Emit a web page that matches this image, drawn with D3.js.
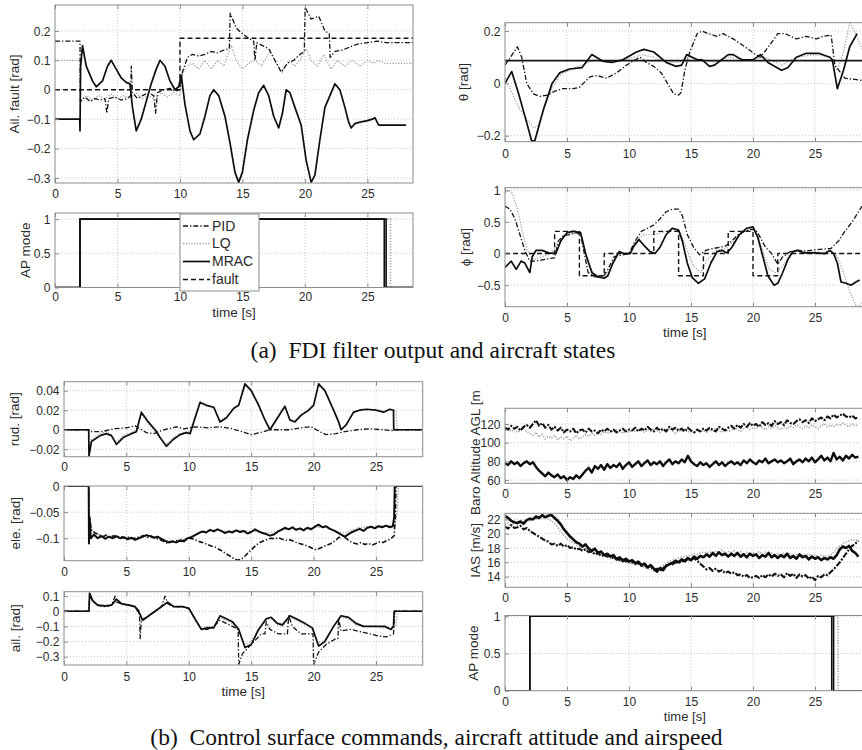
<!DOCTYPE html>
<html><head><meta charset="utf-8">
<script src="https://cdn.jsdelivr.net/npm/d3@7"></script>
<style>body{margin:0;background:#fff}svg{display:block}</style>
</head><body>
<svg id="c" width="862" height="750"></svg>
<script>
// ---------------- DATA ----------------
const timeTicks = [0,5,10,15,20,25];
const legendNames = ['PID','LQ','MRAC','fault'];

// (a) Aileron fault estimate [rad]
const ailFaultPID = [[0,0.165],[2,0.165],[2.03,-0.04],[2.4,-0.025],[2.8,-0.04],[3.2,-0.03],[3.6,-0.035],[4.0,-0.03],[4.15,-0.08],[4.3,-0.03],[4.8,-0.025],[5.3,-0.035],[5.8,-0.03],[6.05,-0.02],[6.1,0.08],[6.2,-0.01],[6.6,-0.03],[7.0,-0.02],[7.5,-0.01],[7.9,-0.02],[8.05,-0.08],[8.2,-0.01],[8.7,0.0],[9.2,0.005],[9.6,-0.005],[10,0.0],[10.2,0.06],[10.6,0.11],[11,0.12],[11.5,0.115],[12,0.12],[12.5,0.13],[13,0.125],[13.5,0.135],[13.95,0.14],[14.02,0.26],[14.5,0.21],[15,0.19],[15.5,0.175],[15.9,0.165],[16.0,0.1],[16.15,0.16],[16.6,0.15],[17.1,0.14],[17.6,0.1],[18.1,0.06],[18.6,0.09],[19.1,0.1],[19.6,0.12],[19.95,0.13],[20.02,0.28],[20.5,0.24],[21.1,0.25],[21.6,0.2],[21.95,0.19],[22.02,0.11],[22.4,0.13],[23,0.135],[23.6,0.145],[24.2,0.155],[25,0.16],[25.8,0.165],[26.5,0.16],[28.7,0.16]];
const ailFaultLQ = [[0,0.1],[2,0.1],[2.05,-0.04],[2.5,-0.02],[3,-0.035],[3.5,-0.02],[4,-0.03],[4.5,-0.015],[5,-0.03],[5.5,-0.02],[6,-0.03],[6.5,-0.01],[7,-0.03],[7.5,-0.02],[8,-0.035],[8.5,-0.01],[9,-0.025],[9.5,-0.01],[10,-0.02],[10.2,0.05],[10.5,0.08],[11,0.09],[11.5,0.07],[12,0.1],[12.5,0.07],[13,0.1],[13.5,0.08],[14.1,0.15],[14.5,0.1],[15,0.07],[15.5,0.09],[16,0.1],[16.5,0.08],[17.2,0.13],[17.7,0.09],[18.2,0.06],[18.7,0.1],[19.2,0.08],[19.6,0.1],[20.1,0.14],[20.5,0.1],[21,0.08],[21.5,0.12],[22.1,0.07],[22.6,0.1],[23.2,0.08],[23.8,0.1],[24.4,0.08],[25,0.1],[25.5,0.09],[25.9,0.1],[26.4,0.09],[28.7,0.09]];
const ailFaultMRAC = [[0,-0.1],[1.98,-0.1],[2,-0.14],[2.05,0.08],[2.2,0.15],[2.5,0.08],[3,0.03],[3.3,0.01],[3.8,0.03],[4.2,0.08],[4.5,0.1],[4.9,0.07],[5.3,0.04],[5.7,0.025],[6.0,0.02],[6.2,-0.06],[6.5,-0.14],[6.9,-0.1],[7.3,-0.04],[7.7,0.02],[8.1,0.07],[8.4,0.1],[8.8,0.08],[9.2,0.03],[9.6,0.0],[9.9,0.01],[10.1,0.05],[10.4,-0.05],[10.8,-0.14],[11.1,-0.17],[11.6,-0.15],[12.0,-0.09],[12.4,-0.02],[12.7,0.0],[13.1,-0.02],[13.6,-0.09],[14.0,-0.18],[14.4,-0.28],[14.7,-0.315],[15.0,-0.28],[15.4,-0.17],[15.9,-0.07],[16.3,-0.01],[16.7,0.015],[17.1,-0.02],[17.5,-0.09],[17.9,-0.13],[18.2,-0.08],[18.5,0.0],[18.8,-0.01],[19.2,-0.06],[19.7,-0.12],[20.1,-0.24],[20.5,-0.315],[20.8,-0.29],[21.2,-0.17],[21.6,-0.06],[21.9,-0.03],[22.4,0.02],[22.8,0.0],[23.2,-0.06],[23.5,-0.11],[23.7,-0.13],[24.0,-0.115],[24.4,-0.11],[25.0,-0.105],[25.4,-0.1],[25.6,-0.095],[25.9,-0.12],[28.1,-0.12]];
const ailFaultTrue = [[0,0],[10,0],[10,0.175],[28.7,0.175]];

// AP mode (0 = manual, 1 = autopilot)
const apPID = [[0,0],[2,0],[2,1],[26.5,1],[26.5,0],[29,0]];
const apLQ = [[0,0],[2,0],[2,1],[26.85,1],[26.85,0],[29,0]];
const apMRAC = [[0,0],[2,0],[2,1],[26.35,1],[26.35,0],[29,0]];

// theta [rad]
const thetaRef = [[0,0.087],[29,0.087]];
const thetaPID = [[0,0.07],[0.3,0.09],[1.0,0.14],[1.35,0.1],[1.75,0.0],[2.3,-0.04],[2.8,-0.05],[3.4,-0.045],[4.0,-0.03],[4.7,-0.02],[5.5,-0.02],[6.0,-0.015],[6.85,0.025],[7.4,0.03],[8.2,0.02],[9.0,0.04],[9.8,0.07],[10.5,0.09],[10.9,0.1],[11.4,0.08],[12.0,0.065],[12.6,0.04],[13.1,0.0],[13.6,-0.04],[14.0,-0.045],[14.2,-0.035],[14.5,0.05],[14.9,0.12],[15.5,0.19],[15.9,0.2],[16.4,0.19],[17.1,0.18],[17.6,0.19],[18.4,0.17],[19.35,0.14],[20.2,0.11],[20.6,0.1],[21.4,0.15],[22.0,0.19],[22.6,0.19],[23.5,0.17],[24.3,0.18],[25.1,0.17],[25.7,0.18],[26.3,0.185],[26.6,0.07],[27.4,0.02],[28.2,0.015],[29,0.01]];
const thetaLQ = [[0,0.02],[0.7,-0.05],[1.2,-0.1],[2.3,-0.17],[2.7,-0.16],[3.2,-0.09],[3.8,-0.02],[4.4,0.03],[5.2,0.05],[6.2,0.07],[7.2,0.09],[8.2,0.08],[9.5,0.09],[10.4,0.1],[11,0.11],[12,0.1],[13,0.08],[14,0.08],[14.8,0.1],[16,0.09],[17,0.08],[18,0.1],[19.5,0.09],[21,0.1],[22.3,0.07],[23.5,0.1],[25,0.11],[26.2,0.1],[26.8,0.05],[27.3,0.12],[27.8,0.23],[28.2,0.2],[28.8,0.13]];
const thetaMRAC = [[0,0.0],[0.54,0.045],[1.1,-0.04],[1.75,-0.15],[2.15,-0.22],[2.4,-0.22],[3.1,-0.1],[3.8,0.0],[4.4,0.04],[5.2,0.055],[6.2,0.06],[7.0,0.11],[7.9,0.085],[8.6,0.08],[9.5,0.09],[10.6,0.12],[11.2,0.13],[12.0,0.12],[13.0,0.08],[13.8,0.065],[14.25,0.07],[14.65,0.11],[15.5,0.09],[15.9,0.09],[16.5,0.065],[16.9,0.07],[18.0,0.11],[18.4,0.11],[19.1,0.09],[20.0,0.09],[20.6,0.11],[21.2,0.08],[22.3,0.05],[22.8,0.06],[23.5,0.1],[24.3,0.115],[25.3,0.115],[26.2,0.1],[26.4,0.09],[26.8,-0.02],[27.3,0.05],[27.8,0.14],[28.4,0.19]];

// phi [rad]
const phiRef = [[0,0],[4,0],[4,0.35],[6,0.35],[6,-0.35],[8,-0.35],[8,0],[12,0],[12,0.35],[14,0.35],[14,-0.35],[16,-0.35],[16,0],[18,0],[18,0.35],[20,0.35],[20,-0.35],[22,-0.35],[22,0],[29,0]];
const phiPID = [[0,0.75],[0.4,0.7],[0.8,0.55],[1.2,0.3],[1.6,0.05],[2.0,-0.12],[2.5,-0.12],[3.0,-0.1],[3.5,-0.08],[4.0,-0.07],[4.3,0.2],[4.7,0.28],[5.2,0.3],[5.8,0.33],[6.1,0.3],[6.4,0.0],[6.7,-0.3],[7.3,-0.37],[7.9,-0.37],[8.3,-0.25],[8.8,-0.05],[9.5,-0.02],[10.0,0.0],[10.5,0.2],[11.0,0.35],[11.5,0.4],[12.0,0.45],[12.5,0.55],[13.0,0.66],[13.5,0.7],[14.0,0.7],[14.3,0.6],[14.7,0.3],[15.2,0.1],[15.7,-0.02],[16.2,0.05],[16.8,0.08],[17.4,0.1],[17.8,0.12],[18.3,0.2],[18.8,0.3],[19.3,0.35],[19.8,0.38],[20.2,0.38],[20.6,0.25],[21.0,0.1],[21.5,0.0],[22.0,-0.17],[22.4,-0.05],[23.0,0.03],[23.6,0.05],[24.3,0.04],[25.0,0.06],[25.7,0.07],[26.3,0.08],[26.9,0.2],[27.4,0.35],[28.0,0.5],[28.8,0.75]];
const phiLQ = [[0,0.95],[0.3,1.0],[0.6,0.95],[1.0,0.7],[1.4,0.35],[1.8,0.05],[2.3,-0.1],[3.0,-0.05],[3.7,0.0],[4.3,0.15],[4.8,0.3],[5.5,0.32],[6.1,0.3],[6.6,-0.1],[7.2,-0.33],[8.0,-0.37],[8.6,-0.2],[9.2,0.0],[10.0,0.0],[10.6,0.2],[11.2,0.3],[12.0,0.3],[12.7,0.33],[13.5,0.38],[14.1,0.35],[14.6,0.1],[15.2,-0.2],[15.8,-0.3],[16.3,-0.1],[17.0,0.05],[17.8,0.08],[18.5,0.2],[19.3,0.35],[20.0,0.4],[20.7,0.1],[21.3,-0.25],[21.8,-0.3],[22.4,-0.2],[23.0,0.0],[23.7,0.05],[24.5,0.03],[25.5,0.02],[26.3,0.03],[26.8,-0.05],[27.3,-0.3],[27.8,-0.6],[28.3,-0.82],[28.6,-0.84],[28.9,-0.75]];
const phiMRAC = [[0,-0.22],[0.5,-0.12],[0.9,-0.25],[1.3,-0.12],[1.6,-0.15],[2.0,-0.3],[2.2,-0.05],[2.5,0.05],[3.0,0.05],[3.5,0.01],[4.1,0.0],[4.5,0.2],[5.0,0.33],[5.5,0.35],[6.1,0.33],[6.5,0.0],[7.0,-0.3],[7.5,-0.37],[8.0,-0.39],[8.3,-0.35],[8.7,-0.15],[9.2,0.03],[9.6,0.0],[10.1,0.0],[10.4,0.12],[10.8,0.22],[11.2,0.13],[11.7,0.03],[12.1,0.0],[12.5,0.1],[13.0,0.3],[13.5,0.4],[14.0,0.37],[14.3,0.2],[14.7,-0.15],[15.1,-0.38],[15.6,-0.47],[16.1,-0.4],[16.6,-0.15],[17.1,0.03],[17.5,0.05],[17.9,0.01],[18.3,0.1],[18.9,0.3],[19.5,0.4],[20.0,0.42],[20.4,0.25],[20.8,-0.05],[21.2,-0.35],[21.7,-0.5],[22.0,-0.47],[22.4,-0.3],[22.8,-0.1],[23.2,0.03],[23.6,0.05],[24.1,0.01],[25.0,0.01],[25.8,0.0],[26.2,0.05],[26.5,0.0],[26.8,-0.15],[27.1,-0.45],[27.5,-0.47],[27.9,-0.5],[28.3,-0.45],[28.6,-0.42]];

// (b) rudder command [rad]
const rudPID = [[0,0],[2,0],[2.2,-0.002],[3,-0.002],[4,0.001],[5,0.002],[5.7,0.004],[6.6,-0.003],[7.2,-0.004],[8,0.0],[9,0.003],[9.6,0.001],[10.5,0.003],[11.5,0.002],[12.5,0.003],[13.5,0.001],[14.5,-0.003],[15,-0.005],[15.7,-0.003],[16.5,0.0],[18,0.0],[19,0.002],[19.8,0.003],[20.5,-0.002],[21,-0.005],[21.8,-0.004],[22.5,-0.002],[23.5,0.0],[24.5,0.001],[25.5,0.0],[26.4,-0.001],[26.5,0],[28.7,0]];
const rudLQ = [[0,0],[2,0],[2.02,-0.024],[2.2,-0.01],[2.9,-0.004],[3.4,-0.002],[3.8,-0.005],[4.2,-0.012],[4.75,-0.006],[5.4,-0.003],[5.8,0],[6.2,0.016],[6.75,0.006],[7.3,-0.002],[7.7,-0.009],[8.2,-0.015],[8.75,-0.008],[9.3,-0.004],[9.8,-0.002],[10.1,-0.002],[10.5,0.014],[10.9,0.029],[11.4,0.026],[12,0.022],[12.5,0.01],[13,0.013],[13.6,0.021],[14,0.026],[14.5,0.045],[15,0.041],[15.6,0.026],[16.1,0.01],[16.5,0.001],[17,0.011],[17.7,0.023],[18.1,0.011],[18.5,0.009],[19,0.014],[19.6,0.021],[20,0.026],[20.4,0.045],[20.9,0.041],[21.6,0.021],[22,0.009],[22.2,0.001],[22.6,0.004],[23.2,0.017],[23.7,0.021],[24.25,0.02],[25,0.021],[25.6,0.019],[26.1,0.02],[26.6,0.02],[26.7,0],[28.7,0]];
const rudMRAC = [[0,0],[1.98,0],[2.0,-0.027],[2.2,-0.012],[2.9,-0.006],[3.4,-0.004],[3.8,-0.006],[4.2,-0.015],[4.75,-0.008],[5.4,-0.004],[5.8,-0.002],[6.2,0.018],[6.75,0.008],[7.3,0.0],[7.7,-0.008],[8.2,-0.017],[8.75,-0.01],[9.3,-0.005],[9.8,-0.003],[10.1,-0.004],[10.5,0.012],[10.9,0.028],[11.4,0.025],[12.0,0.023],[12.5,0.008],[13.0,0.012],[13.6,0.022],[14.0,0.025],[14.5,0.047],[15.0,0.04],[15.6,0.025],[16.1,0.01],[16.5,0.0],[17.0,0.01],[17.7,0.024],[18.1,0.01],[18.5,0.008],[19.0,0.015],[19.6,0.02],[20.0,0.025],[20.4,0.047],[20.9,0.04],[21.6,0.02],[22.0,0.008],[22.2,0.0],[22.6,0.005],[23.2,0.018],[23.7,0.02],[24.25,0.021],[25.0,0.02],[25.6,0.018],[26.1,0.021],[26.4,0.02],[26.42,0],[28.7,0]];

// elevator command [rad]
const elePID = [[0,0],[1.98,0],[2,-0.1],[2.05,-0.06],[2.2,-0.085],[2.5,-0.09],[2.8,-0.093],[3.1,-0.097],[3.4,-0.094],[3.7,-0.098],[4,-0.095],[4.3,-0.099],[4.6,-0.097],[4.9,-0.1],[5.2,-0.098],[5.5,-0.101],[5.8,-0.099],[6.1,-0.097],[6.4,-0.095],[6.7,-0.098],[7,-0.096],[7.3,-0.1],[7.6,-0.102],[7.9,-0.105],[8.2,-0.109],[8.5,-0.107],[8.8,-0.106],[9.1,-0.104],[9.4,-0.106],[9.7,-0.102],[10,-0.1],[10.3,-0.101],[10.6,-0.104],[10.9,-0.107],[11.2,-0.109],[11.5,-0.112],[11.8,-0.115],[12.1,-0.117],[12.4,-0.121],[12.7,-0.125],[13,-0.13],[13.3,-0.134],[13.6,-0.139],[13.9,-0.142],[14.2,-0.14],[14.5,-0.134],[14.8,-0.127],[15.1,-0.12],[15.4,-0.113],[15.7,-0.108],[16,-0.105],[16.3,-0.102],[16.6,-0.1],[16.9,-0.101],[17.2,-0.099],[17.5,-0.102],[17.8,-0.104],[18.1,-0.103],[18.4,-0.106],[18.7,-0.109],[19,-0.111],[19.3,-0.113],[19.6,-0.116],[19.9,-0.119],[20.2,-0.122],[20.5,-0.119],[20.8,-0.116],[21.1,-0.113],[21.4,-0.11],[21.7,-0.105],[22,-0.099],[22.3,-0.095],[22.6,-0.1],[22.9,-0.106],[23.2,-0.109],[23.5,-0.111],[23.8,-0.108],[24.1,-0.112],[24.4,-0.11],[24.7,-0.113],[25,-0.11],[25.3,-0.107],[25.6,-0.108],[25.9,-0.104],[26.2,-0.101],[26.45,-0.095],[26.55,-0.06],[26.6,0],[28.7,0]];
const eleLQ = [[0,0],[2,0],[2.02,-0.1],[2.1,-0.075],[2.4,-0.09],[3,-0.095],[4,-0.098],[5,-0.1],[6,-0.1],[7,-0.096],[8,-0.104],[9,-0.106],[10,-0.099],[11,-0.088],[12,-0.084],[13,-0.087],[14,-0.085],[15,-0.086],[16,-0.09],[17,-0.087],[18,-0.082],[19,-0.082],[20,-0.079],[21,-0.079],[22,-0.088],[22.5,-0.09],[23.5,-0.08],[24.5,-0.078],[25.5,-0.076],[26.5,-0.075],[26.7,-0.05],[26.8,0],[28.7,0]];
const eleMRAC = [[0,0],[1.98,0],[2,-0.11],[2.05,-0.06],[2.15,-0.1],[2.4,-0.093],[2.7,-0.1],[3,-0.096],[3.3,-0.101],[3.6,-0.097],[3.9,-0.1],[4.2,-0.096],[4.5,-0.1],[4.8,-0.098],[5.1,-0.102],[5.4,-0.099],[5.7,-0.103],[6,-0.1],[6.3,-0.097],[6.6,-0.094],[6.9,-0.096],[7.2,-0.099],[7.5,-0.097],[7.8,-0.101],[8.1,-0.105],[8.4,-0.108],[8.7,-0.106],[9,-0.108],[9.3,-0.104],[9.6,-0.106],[9.9,-0.1],[10.2,-0.098],[10.5,-0.094],[10.8,-0.09],[11.1,-0.087],[11.4,-0.089],[11.7,-0.084],[12,-0.087],[12.3,-0.083],[12.6,-0.086],[12.9,-0.09],[13.2,-0.087],[13.5,-0.089],[13.8,-0.085],[14.1,-0.088],[14.4,-0.086],[14.7,-0.091],[15,-0.088],[15.3,-0.083],[15.6,-0.087],[15.9,-0.09],[16.2,-0.092],[16.5,-0.095],[16.8,-0.093],[17.1,-0.088],[17.4,-0.084],[17.7,-0.08],[18,-0.083],[18.3,-0.079],[18.6,-0.084],[18.9,-0.081],[19.2,-0.085],[19.5,-0.08],[19.8,-0.083],[20.1,-0.078],[20.4,-0.074],[20.7,-0.079],[21,-0.077],[21.3,-0.082],[21.6,-0.085],[21.9,-0.089],[22.2,-0.093],[22.5,-0.097],[22.8,-0.092],[23.1,-0.088],[23.4,-0.085],[23.7,-0.082],[24,-0.086],[24.3,-0.08],[24.6,-0.078],[24.9,-0.081],[25.2,-0.077],[25.5,-0.079],[25.8,-0.076],[26.1,-0.079],[26.35,-0.077],[26.45,-0.06],[26.5,0],[28.7,0]];

// aileron command [rad]
const ailPID = [[0,0],[2,0],[2.05,0.1],[2.3,0.07],[2.7,0.04],[3.3,0.03],[3.8,0.04],[4.1,0.1],[4.2,0.06],[4.6,0.05],[5.2,0.04],[5.7,0.03],[6.05,0.0],[6.1,-0.18],[6.2,-0.06],[6.8,-0.03],[7.3,0.0],[7.8,0.03],[8.1,0.1],[8.3,0.05],[8.8,0.03],[9.5,0.03],[10,0.02],[10.5,-0.05],[11,-0.12],[11.5,-0.12],[12,-0.1],[12.5,-0.06],[13,-0.08],[13.5,-0.1],[13.95,-0.12],[14,-0.35],[14.3,-0.28],[15,-0.22],[15.8,-0.15],[16.1,-0.15],[16.2,-0.07],[16.5,-0.12],[17.2,-0.15],[17.9,-0.15],[18,-0.03],[18.3,-0.1],[19,-0.15],[19.95,-0.15],[20,-0.35],[20.4,-0.27],[21,-0.22],[21.8,-0.18],[21.95,-0.18],[22,-0.05],[22.2,-0.13],[23,-0.12],[24,-0.14],[25,-0.16],[25.8,-0.17],[26.4,-0.15],[26.5,0],[28.7,0]];
const ailLQ = [[0,0],[2,0],[2.05,0.1],[2.3,0.06],[2.7,0.035],[3.3,0.03],[3.8,0.035],[4.2,0.07],[4.6,0.045],[5.2,0.035],[5.7,0.025],[6.1,-0.03],[6.3,-0.05],[6.8,-0.025],[7.3,0.005],[7.8,0.03],[8.3,0.05],[8.8,0.03],[9.5,0.025],[10,0.015],[10.5,-0.06],[11,-0.11],[11.5,-0.1],[12,-0.1],[12.5,-0.04],[13,-0.06],[13.5,-0.08],[14,-0.13],[14.5,-0.22],[15,-0.2],[15.6,-0.11],[16.2,-0.06],[16.6,-0.05],[17.1,-0.09],[17.5,-0.1],[18.1,-0.04],[18.6,-0.06],[19.3,-0.09],[19.9,-0.12],[20.4,-0.21],[20.9,-0.19],[21.6,-0.1],[22.2,-0.04],[22.8,-0.05],[23.4,-0.09],[24,-0.1],[25,-0.1],[25.7,-0.11],[26.2,-0.11],[26.6,-0.1],[26.7,0],[28.7,0]];
const ailMRAC = [[0,0],[2,0],[2.05,0.12],[2.3,0.07],[2.7,0.04],[3.3,0.035],[3.8,0.04],[4.2,0.08],[4.6,0.05],[5.2,0.04],[5.7,0.03],[6.1,-0.02],[6.3,-0.06],[6.8,-0.03],[7.3,0.0],[7.8,0.03],[8.3,0.06],[8.8,0.03],[9.5,0.03],[10,0.02],[10.5,-0.05],[11,-0.12],[11.5,-0.11],[12,-0.11],[12.5,-0.03],[13,-0.05],[13.5,-0.07],[14,-0.12],[14.5,-0.24],[15,-0.22],[15.6,-0.12],[16.2,-0.05],[16.6,-0.04],[17.1,-0.08],[17.5,-0.09],[18.1,-0.03],[18.6,-0.05],[19.3,-0.08],[19.9,-0.11],[20.4,-0.23],[20.9,-0.2],[21.6,-0.1],[22.2,-0.03],[22.8,-0.04],[23.4,-0.08],[24,-0.1],[25,-0.1],[25.7,-0.1],[26.2,-0.12],[26.4,-0.1],[26.45,0],[28.7,0]];

// Baro altitude AGL [m], sampled every 0.25 s from t = 0
const baroPID = [116,114,118,115,117,113,117,119,116, 120,124,118,121,116,119,114,117, 113,116,111,114,112,115,110,113, 114,111,115,112,113,110,114,112, 115,112,114,111,113,115,112,114, 113,116,112,115,113,117,114,112, 116,113,115,112,117,114,116,113, 115,112,116,113,111,114,112,115, 113,116,114,112,117,115,113,116, 118,115,119,116,120,117,121,118, 120,117,122,119,121,118,123,120, 122,119,124,121,120,123,125,122, 124,121,126,123,125,127,124,128, 126,130,127,129,131,128,127,129, 126,127];
const baroLQ = [113,115,112,114,111,113,115,112,110, 108,111,106,109,104,107,105,108, 103,106,104,107,102,105,108,104, 106,109,107,110,108,111,109,112, 110,113,111,114,112,110,113,111, 114,112,115,113,111,114,112,115, 113,111,114,112,115,113,110,113, 112,114,111,113,110,114,112,113, 111,114,112,115,113,111,114,112, 113,116,114,112,115,117,114,116, 115,118,116,114,117,115,118,116, 114,117,115,118,116,119,117,115, 118,116,119,117,115,118,120,117, 119,117,120,118,121,119,117,120, 118,119];
const baroMRAC = [78,76,80,77,79,75,78,80,77, 79,74,70,67,64,68,65,63, 66,62,64,60,63,61,65,62, 66,70,73,68,75,72,76,71, 77,73,76,74,78,72,76,79, 74,77,80,75,78,81,76,79, 77,80,75,79,82,77,80,78, 82,79,86,80,77,75,79,76, 78,74,77,80,76,79,75,78, 80,77,79,76,81,78,82,79, 77,81,79,83,78,80,82,79, 81,78,80,83,77,80,82,79, 83,80,84,79,82,86,81,84, 80,89,82,85,81,86,83,87, 84,85];

// IAS [m/s], sampled every 0.25 s from t = 0
const iasPID = [21.0,20.7,21.2,20.8,20.9,21.1,20.6,20.8,20.4, 20.1,19.8,19.6,19.3,19.0,18.9,18.5,18.6, 18.3,18.6,18.2,18.4,18.0,18.1,17.8,17.9, 17.6,17.8,17.4,17.5,17.1,17.3,16.9,17.0, 16.8,16.9,16.5,16.6,16.3,16.4,16.1,16.2, 16.0,15.8,15.9,15.5,15.6,15.3,15.4,15.0, 15.1,14.8,15.2,15.5,15.8,15.7,16.0,15.9, 16.2,16.1,16.4,16.3,16.6,16.2,15.8,15.4, 15.0,15.2,14.8,15.1,14.7,14.9,14.5,14.7, 14.4,14.6,14.2,14.3,14.0,14.2,13.8,13.9, 14.1,13.8,14.2,13.9,14.3,14.0,14.4,14.1, 14.3,13.9,14.5,14.1,14.4,13.8,14.3,14.0, 14.2,13.7,14.0,13.5,14.1,13.9,14.3,14.2, 14.6,15.0,15.5,16.0,16.6,17.2,17.8,18.3, 18.6,19.0];
const iasLQ = [21.2,21.5,21.0,21.6,21.3,21.8,21.5,22.0,21.8, 22.2,22.0,22.4,22.1,22.3,22.0,21.8,21.4, 20.9,20.3,19.8,19.3,19.0,18.7,18.4,18.2, 18.0,17.8,17.6,17.4,17.3,17.1,17.0,16.8, 16.7,16.5,16.6,16.3,16.2,16.0,16.1,15.8, 15.9,15.6,15.7,15.4,15.3,15.1,15.0,14.8, 15.0,15.3,15.6,15.8,16.1,16.3,16.4,16.6, 16.7,16.8,16.9,17.0,17.2,17.1,17.3,17.4, 17.3,17.5,17.2,17.6,17.4,17.7,17.3,17.5, 17.4,17.6,17.2,17.5,17.1,17.4,17.0,17.3, 17.2,17.5,17.1,17.4,17.0,17.3,16.9,17.2, 17.0,17.3,16.9,17.2,16.8,17.1,16.7,17.0, 16.9,17.2,16.8,17.1,16.7,17.0,16.8,16.9, 17.0,17.4,17.9,18.3,18.6,18.8,19.0,19.2, 19.0,19.3];
const iasMRAC = [22.5,22.2,21.8,21.6,21.5,21.7,21.4,21.9,22.1, 22.0,22.4,22.2,22.6,22.3,22.5,22.6,22.2, 21.8,21.3,20.6,20.1,19.6,19.2,18.8,18.6, 18.2,18.5,17.9,17.6,17.9,17.3,17.5,17.0, 17.2,16.8,17.0,16.4,16.7,16.2,16.5,16.1, 16.3,15.9,16.1,15.6,15.8,15.3,15.6,15.1, 14.7,15.2,14.9,15.5,15.7,15.9,16.2,16.0, 16.4,16.2,16.6,16.3,16.8,16.5,16.9,16.7, 17.1,16.8,17.3,16.9,17.4,17.0,17.2,16.8, 17.2,16.9,17.3,16.8,17.1,16.7,17.2,16.9, 17.1,16.6,17.0,16.8,17.3,16.7,17.0,16.6, 17.0,16.7,17.2,16.6,16.9,16.5,17.1,16.7, 16.9,16.4,16.8,16.5,16.7,16.3,16.6,16.4, 16.7,16.5,17.0,17.8,18.2,18.0,18.3,17.6, 17.3,16.8];
const sampleDt = 0.25;

// ---------------- DRAWING ----------------
const STY = {
  PID:   {stroke:'#141414', w:1.3, dash:'5,2,1.3,2'},
  LQ:    {stroke:'#a0a0a0', w:1.3, dash:'1.2,1.6'},
  MRAC:  {stroke:'#0d0d0d', w:1.7, dash:null},
  fault: {stroke:'#141414', w:1.4, dash:'5,3'},
  ref:   {stroke:'#141414', w:1.7, dash:null}
};
const FONT = 'Liberation Sans, Arial, Helvetica, sans-serif';
const TXT = '#2a2a2a', BOX = '#8c8c8c', GRID = '#c2c2c2';
const svg = d3.select('#c');
svg.append('rect').attr('width',862).attr('height',750).attr('fill','#fff');
const defs = svg.append('defs');
let clipN = 0;
const sampled = arr => arr.map((v,i)=>[i*sampleDt, v]);
const fmtNum = v => String(v).replace('-', '\u2212');

function panel(o){
  const x = d3.scaleLinear().domain(o.xd).range([o.x0,o.x1]);
  const y = d3.scaleLinear().domain(o.yd).range([o.y1,o.y0]);
  const g = svg.append('g');
  g.append('g').selectAll('line').data(timeTicks.filter(v=>v>o.xd[0]&&v<o.xd[1])).join('line')
    .attr('x1',d=>x(d)).attr('x2',d=>x(d)).attr('y1',o.y0).attr('y2',o.y1)
    .attr('stroke',GRID).attr('stroke-width',0.9).attr('stroke-dasharray','1,2');
  g.append('g').selectAll('line').data(o.yt.filter(v=>v>o.yd[0]&&v<o.yd[1])).join('line')
    .attr('y1',d=>y(d)).attr('y2',d=>y(d)).attr('x1',o.x0).attr('x2',o.x1)
    .attr('stroke',GRID).attr('stroke-width',0.9).attr('stroke-dasharray','1,2');
  const id = 'clip'+(clipN++);
  defs.append('clipPath').attr('id',id).append('rect')
    .attr('x',o.x0).attr('y',o.y0).attr('width',o.x1-o.x0).attr('height',o.y1-o.y0);
  const lg = g.append('g').attr('clip-path',`url(#${id})`);
  const line = d3.line().x(d=>x(d[0])).y(d=>y(d[1]));
  o.series.forEach(s=>{
    lg.append('path').datum(s.data).attr('d',line).attr('fill','none')
      .attr('stroke',s.st.stroke).attr('stroke-width',s.w||s.st.w)
      .attr('stroke-dasharray',s.dash!==undefined?s.dash:s.st.dash).attr('stroke-linejoin','round');
  });
  const ax = g.append('g').attr('transform',`translate(0,${o.y1})`)
    .call(d3.axisBottom(x).tickValues(timeTicks).tickSizeInner(-4).tickSizeOuter(0).tickFormat(d3.format('d')));
  const ay = g.append('g').attr('transform',`translate(${o.x0},0)`)
    .call(d3.axisLeft(y).tickValues(o.yt).tickSizeInner(-4).tickSizeOuter(0).tickFormat(fmtNum));
  const axT = g.append('g').attr('transform',`translate(0,${o.y0})`)
    .call(d3.axisTop(x).tickValues(timeTicks).tickSizeInner(-4).tickSizeOuter(0).tickFormat(''));
  [ax,ay,axT].forEach(a=>{
    a.select('.domain').remove();
    a.selectAll('line').attr('stroke',BOX);
    a.selectAll('text').attr('fill',TXT).style('font-family',FONT).style('font-size','12px');
  });
  ax.selectAll('text').attr('y',o.xTickDy||11).attr('dy','0.35em');
  ay.selectAll('text').attr('x',-4.5).attr('dy','0.35em');
  g.append('rect').attr('x',o.x0).attr('y',o.y0).attr('width',o.x1-o.x0).attr('height',o.y1-o.y0)
    .attr('fill','none').attr('stroke',BOX).attr('stroke-width',1);
  if(o.ylab){
    g.append('text').attr('transform',`translate(${o.ylabX},${o.ylabY!==undefined?o.ylabY:(o.y0+o.y1)/2}) rotate(-90)`)
      .attr('text-anchor',o.ylabAnchor||'middle').attr('dy','0.35em').attr('fill',TXT)
      .style('font-family',FONT).style('font-size','13.5px').text(o.ylab);
  }
  if(o.xlab){
    g.append('text').attr('x',(o.x0+o.x1)/2).attr('y',o.xlabY).attr('dy','0.35em')
      .attr('text-anchor','middle').attr('fill',TXT).style('font-family',FONT).style('font-size',(o.xlabSize||13.5)+'px').text(o.xlab);
  }
  return {x,y,g};
}

const L1 = {x0:55, x1:413, xd:[0,28.65]};
const L2 = {x0:64, x1:422.7, xd:[0,28.74]};
const R = {x0:505, x1:864.6, xd:[0,29]};

panel({...L1, y0:5, y1:183, yd:[-0.317,0.288], yt:[-0.3,-0.2,-0.1,0,0.1,0.2],
  ylab:'Ail. fault [rad]', ylabX:14,
  series:[{data:ailFaultLQ,st:STY.LQ},{data:ailFaultPID,st:STY.PID},{data:ailFaultTrue,st:STY.fault},{data:ailFaultMRAC,st:STY.MRAC}]});

panel({...L1, y0:213, y1:287.5, yd:[0,1.09], yt:[0,0.5,1], ylab:'AP mode', ylabX:25,
  xlab:'time [s]', xlabY:312.5, xTickDy:9.5,
  series:[{data:apLQ,st:STY.LQ,w:1.6},{data:apPID,st:STY.MRAC,w:1.6},{data:apMRAC,st:STY.MRAC,w:1.6}]});

// legend
{
  const lx=180, ly=214, lw=79, lh=77;
  const lg = svg.append('g');
  lg.append('rect').attr('x',lx).attr('y',ly).attr('width',lw).attr('height',lh).attr('fill','#fff').attr('stroke',BOX);
  const ys=[226,243.5,261.5,279.5];
  legendNames.forEach((n,i)=>{
    const st = STY[n];
    lg.append('line').attr('x1',183).attr('x2',210).attr('y1',ys[i]).attr('y2',ys[i])
      .attr('stroke',st.stroke).attr('stroke-width',st.w).attr('stroke-dasharray',st.dash);
    lg.append('text').attr('x',212).attr('y',ys[i]).attr('dy','0.35em').attr('fill',TXT)
      .style('font-family',FONT).style('font-size','14px').text(n);
  });
}

panel({...R, y0:22.7, y1:141.7, yd:[-0.223,0.232], yt:[-0.2,0,0.2], ylab:'\u03b8 [rad]', ylabX:463, xTickDy:12,
  series:[{data:thetaLQ,st:STY.LQ},{data:thetaPID,st:STY.PID},{data:thetaRef,st:STY.ref},{data:thetaMRAC,st:STY.MRAC}]});

panel({...R, y0:187.7, y1:306.7, yd:[-0.84,1.04], yt:[-0.5,0,0.5,1], ylab:'\u03d5 [rad]', ylabX:465,
  xlab:'time [s]', xlabY:332.5,
  series:[{data:phiLQ,st:STY.LQ},{data:phiPID,st:STY.PID},{data:phiRef,st:STY.fault},{data:phiMRAC,st:STY.MRAC}]});

panel({...L2, y0:381.7, y1:456.7, yd:[-0.0276,0.0492], yt:[-0.02,0,0.02,0.04], ylab:'rud. [rad]', ylabX:14, xTickDy:10,
  series:[{data:rudLQ,st:STY.LQ},{data:rudPID,st:STY.PID},{data:rudMRAC,st:STY.MRAC}]});

panel({...L2, y0:486, y1:560.7, yd:[-0.143,0], yt:[-0.1,-0.05,0], ylab:'ele. [rad]', ylabX:15,
  series:[{data:eleLQ,st:STY.LQ},{data:elePID,st:STY.PID,w:1.6},{data:eleMRAC,st:STY.MRAC,w:2}]});

panel({...L2, y0:591.7, y1:665, yd:[-0.355,0.129], yt:[-0.3,-0.2,-0.1,0,0.1], ylab:'ail. [rad]', ylabX:15,
  xlab:'time [s]', xlabY:691.5, xTickDy:12,
  series:[{data:ailLQ,st:STY.LQ},{data:ailPID,st:STY.PID},{data:ailMRAC,st:STY.MRAC}]});

panel({...R, y0:408.3, y1:483.3, yd:[56.5,136.8], yt:[60,80,100,120],
  ylab:'Baro Altitude AGL [m', ylabX:475, ylabY:515, ylabAnchor:'start',
  series:[{data:sampled(baroLQ),st:STY.LQ,w:1.6},{data:sampled(baroPID),st:STY.PID,w:2.1,dash:'6,1.5,2,1.5'},{data:sampled(baroMRAC),st:STY.MRAC,w:2.4}]});

panel({...R, y0:513.3, y1:587.3, yd:[12.5,22.85], yt:[14,16,18,20,22], ylab:'IAS [m/s]', ylabX:475,
  series:[{data:sampled(iasLQ),st:STY.LQ,w:1.6},{data:sampled(iasPID),st:STY.PID,w:2.1,dash:'6,1.5,2,1.5'},{data:sampled(iasMRAC),st:STY.MRAC,w:2.6}]});

panel({...R, y0:615.5, y1:690.7, yd:[0,1.01], yt:[0,0.5,1], ylab:'AP mode', ylabX:473,
  xlab:'time [s]', xlabY:716, xTickDy:11, xlabSize:13,
  series:[{data:apLQ,st:STY.LQ,w:1.6},{data:apPID,st:STY.MRAC,w:1.6},{data:apMRAC,st:STY.MRAC,w:1.6}]});

// captions
const CAP = 'Liberation Serif, Times New Roman, serif';
svg.append('text').attr('x',433).attr('y',358).attr('text-anchor','middle').attr('fill','#111')
  .style('font-family',CAP).style('font-size','23.5px').attr('xml:space','preserve')
  .text('(a)  FDI filter output and aircraft states');
svg.append('text').attr('x',436.5).attr('y',745).attr('text-anchor','middle').attr('fill','#111')
  .style('font-family',CAP).style('font-size','23.5px').attr('xml:space','preserve')
  .text('(b)  Control surface commands, aircraft attitude and airspeed');
</script>
</body></html>
